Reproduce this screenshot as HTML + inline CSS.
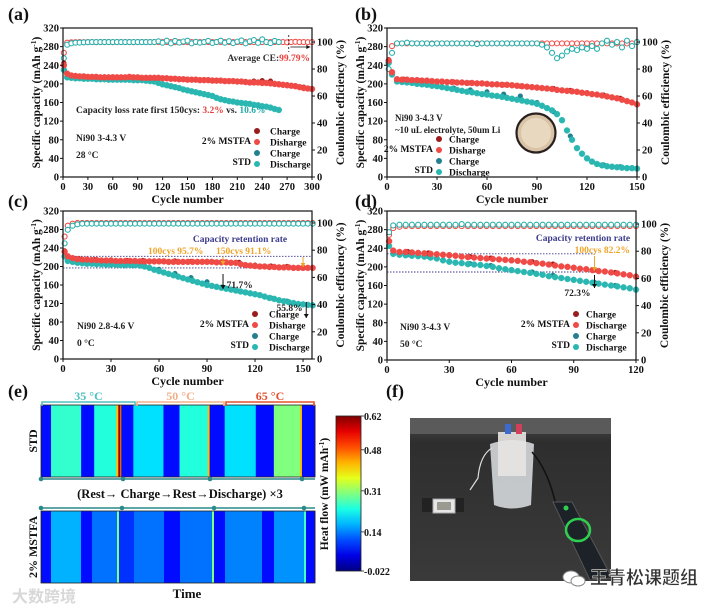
<!DOCTYPE html>
<html><head><meta charset="utf-8">
<style>
html,body{margin:0;padding:0;background:#fff;}
body{width:719px;height:608px;overflow:hidden;}
svg{display:block;font-family:"Liberation Serif","Noto Serif CJK SC",serif;font-weight:bold;}
</style></head>
<body>
<svg id="fig" width="719" height="608" viewBox="0 0 719 608" xmlns="http://www.w3.org/2000/svg"></svg>
<script>
// ---------- DATA ----------
// panel a (cycles: 1, then every 5)
const aMstfaDis=[240,222,218,217,216,216,215,215,215,214,214,214,214,214,214,214,215,214,214,213,213,213,213,213,212,212,211,211,210,210,209,209,209,208,208,208,207,207,207,206,206,206,205,205,204,203,203,203,202,202,201,200,199,198,197,196,195,193,191,190,189];
const aStdDis=[230,214,213,212,212,211,211,211,210,210,210,209,209,209,209,209,209,208,208,208,207,206,205,202,199,197,195,193,191,188,186,184,182,180,178,176,174,170,167,165,163,162,160,159,158,157,155,154,152,151,149,146,144];
const aMstfaCE=[92,99.5,99.8,99.9,100,99.9,100,100,99.9,100,100,100,99.9,100,100,100,100,99.9,100,100,100,100,100,100,100,100,100,99.9,100,100,100,100,100,100,100,100,100,100,100,100,100,100,100,100,100,100,100,100,100,100,100,100,100,100,99.8,100,100.2,100,100,99.9,100];
const aStdCE=[88,98,99,99.5,99.6,99.8,99.9,100,100,100,100,100,100,100,100,100,100,100,100,100,100,100,100,100.5,99.5,101,99,100.8,99.6,100.4,101,99,100.2,99.5,100,100.8,99.3,100,101,99.5,100.6,99.2,100.3,101.2,99,100.5,101.5,99.4,102,100,99.2,100.8,100];
// charge (cycles: 1, then every 10)
const aMstfaChg=[245,218,216,215,215,215,215,214,214,213,213,213,212,211,210,210,209,209,208,207,206,206,205,206,207,206,200,198,196,193,190];
const aStdChg=[238,213,212,211,210,210,209,209,208,207,206,205,199,195,191,186,182,178,174,167,163,160,158,155,152,149,144];
// panel b (cycles: 1, then every 3)
const bMstfaDis=[250,225,210,209,209,208,208,207,207,206,205,205,204,204,203,203,202,202,201,201,200,199,199,198,198,197,196,195,194,193,192,191,190,189,187,186,185,184,183,181,180,178,177,175,173,171,169,166,163,160,156];
const bStdDis=[245,220,205,204,203,202,200,199,198,196,195,193,191,189,187,185,183,182,180,178,177,175,174,172,170,168,166,164,162,160,157,153,148,143,135,122,100,80,62,50,40,33,28,25,23,22,21,20,19,19,18];
const bMstfaCE=[85,97,99,99,99,99,99,99,99,99,99,99,99,99,99,99,99,99,99,99,99,99,99,99,99,99,99,99,99,99,99,99,99,99,99,99,99,99,99,99,99,99,99,99,99,99,99,99,99,99,100];
const bStdCE=[80,92,99,99,99.5,99,99,99,99,98.8,99,99,99,99,99,99,99,99,98.5,99,99,99,99,99,99,99,99,99,99,99,99,98,96,92,88,90,93,95,94,96,95,97,95,99,101,98,100,96,101,97,100];
const bMstfaChg=[252,210,207,205,204,202,200,198,195,193,190,186,181,176,169,157];
const bStdChg=[248,205,201,196,191,187,183,178,174,160,140,88,40,26,22,18];
// panel c (cycles: 1, then every 3)
const cMstfaDis=[232,222,218,216,215,215,214,214,213,213,213,212,212,212,212,212,211,211,211,211,211,211,210,210,210,210,210,210,210,210,210,210,209,209,209,208,208,205,203,202,201,200,200,199,199,198,198,198,197,197,197,197,197];
const cStdDis=[222,212,210,208,207,206,206,205,205,204,204,204,203,203,203,203,202,200,197,193,190,187,184,181,178,175,172,169,166,163,160,158,156,154,152,150,148,146,144,142,140,138,135,132,130,127,125,123,121,119,118,117,116];
const cMstfaCE=[90,98,99.5,100,100,100,100,100,100,100,100,100,100,100,100,100,100,100,100,100,100,100,100,100,100,100,100,100,100,100,100,100,100,100,100,100,100,100,100,100,100,100,100,100,100,100,100,100,100,100,100,100,100];
const cStdCE=[85,95,98,99,99.5,99.5,99.5,99.5,99.5,99.5,99.5,99.5,99.5,99.5,99.5,99.5,99.5,99.5,99.5,99.5,99.5,99.5,99.5,99.5,99.5,99.5,99.5,99.5,99.5,99.5,99.5,99.5,99.5,99.5,99.5,99.5,99.5,99.5,99.5,99.5,99.5,99.5,99.5,99.5,99.5,99.5,99.5,99.5,99.5,99.5,99.5,99.5,99.5];
const cMstfaChg=[234,217,215,214,213,213,212,212,211,211,210,209,203,201,200,198];
const cStdChg=[224,209,206,205,204,203,194,185,176,167,155,147,141,132,125,119];
// panel d (cycles: 1, then every 3)
const dMstfaDis=[255,235,232,232,231,230,229,228,227,226,225,224,222,221,220,219,218,217,216,215,214,213,211,210,208,207,205,203,201,200,198,196,195,193,191,190,188,186,184,182,179];
const dStdDis=[245,228,226,225,224,223,222,220,218,214,211,209,208,206,205,204,202,200,197,195,193,191,189,187,185,183,180,178,176,174,172,170,168,166,164,162,160,158,156,154,151];
const dMstfaCE=[92,97,98,98.5,98.5,98.5,98.5,98.5,98.5,98.5,98.5,98.5,98.5,98.5,98.5,98.5,98.5,98.5,98.5,98.5,98.5,98.5,98.5,98.5,98.5,98.5,98.5,98.5,98.5,98.5,98.5,98.5,98.5,98.5,98.5,98.5,98.5,98.5,98.5,98.5,98.5];
const dStdCE=[94,99,99.5,99.5,99.5,99.5,99.5,99.5,99.5,99.5,99.5,99.5,100,99.5,99.5,99.5,99.5,99.5,99.5,99.5,99.5,99.5,99.5,99.5,99.5,99.5,99.5,99.5,99.5,99.5,99.5,99.5,99.5,99.5,99.5,99.5,99.5,99.5,99.5,99.5,99.5];
const dMstfaChg=[256,233,230,226,222,219,215,211,206,199,193,188,180];
const dStdChg=[246,226,222,212,207,203,194,189,182,173,167,160,152];
// axis ticks
const capTicks=[0,40,80,120,160,200,240,280,320];
const ceTicks=[0,20,40,60,80,100];
const xTicksA=[0,30,60,90,120,150,180,210,240,270,300];
const xTicksB=[0,30,60,90,120,150];
const xTicksD=[0,30,60,90,120];
// heatmap (durations in time units, heat flow values)
const stdDur=[10,30,13,22,2,2,1,12,30,16,28,2,15,31,18,26,2,13];
const stdHeat=[0.065,0.25,0.065,0.24,0.42,0.6,0.45,0.065,0.2,0.065,0.24,0.42,0.065,0.2,0.065,0.3,0.42,0.065];
const msDur=[10,30,11,25,2,15,30,16,32,2,11,37,12,30,2,9];
const msHeat=[0.065,0.17,0.065,0.13,0.3,0.09,0.13,0.065,0.13,0.3,0.065,0.14,0.065,0.15,0.26,0.065];
const cbTicks=[0.62,0.48,0.31,0.14,-0.022];

// ---------- HELPERS ----------
const NS="http://www.w3.org/2000/svg";
const fig=document.getElementById('fig');
function el(tag,attrs,parent){const e=document.createElementNS(NS,tag);for(const k in attrs)e.setAttribute(k,attrs[k]);(parent||fig).appendChild(e);return e;}
function txt(x,y,s,size,fill,anchor,parent){const t=el('text',{x:x,y:y,'font-size':size,fill:fill||'#111','text-anchor':anchor||'start'},parent);t.textContent=s;return t;}

const C={mc:'#9a1c1c',md:'#ef4a46',sc:'#23808f',sd:'#2bb7b1'};

function panel(cfg){
  const g=el('g',{});
  
  
  const {L,R,T,B,xmax,ceTop}=cfg;
  const sx=v=>L+v/xmax*(R-L), sy=v=>B-v/320*(B-T), sce=v=>B-v/ceTop*(B-T);
  if(cfg.back) cfg.back(g,sx,sy,sce);
  function cyc(i,step){return i===0?1:i*step;}
  function dots(arr,step,color,yfun,open,name,r){
    const gg=el('g',{},g);
    
    
    arr.forEach((v,i)=>{
      const c=el('circle',{cx:sx(cyc(i,step)),cy:yfun(v),r:r||2.8,fill:open?'#fff':color,stroke:color,'stroke-width':open?1.1:0.4},gg);
      
      
    });
  }
  dots(cfg.mCE,cfg.step,'#f0504c',sce,true,'mstfa-ce-series',2.5);
  dots(cfg.sCE,cfg.step,'#27afac',sce,true,'std-ce-series',2.5);
  dots(cfg.sChg,10,C.sc,sy,false,'std-charge-series',2.4);
  dots(cfg.mChg,10,C.mc,sy,false,'mstfa-charge-series',2.4);
  dots(cfg.sDis,cfg.step,C.sd,sy,false,'std-discharge-series',3);
  dots(cfg.mDis,cfg.step,C.md,sy,false,'mstfa-discharge-series',3);
  const fr=el('rect',{x:L,y:T,width:R-L,height:B-T,fill:'none',stroke:'#111','stroke-width':1.2},g);
  
  
  capTicks.forEach(v=>{
    el('line',{x1:L-3,x2:L,y1:sy(v),y2:sy(v),stroke:'#111','stroke-width':1},g);
    const t=txt(L-4,sy(v)+3.5,String(v),10.5,'#111','end',g);
    
    
  });
  ceTicks.forEach(v=>{
    el('line',{x1:R,x2:R+3,y1:sce(v),y2:sce(v),stroke:'#111','stroke-width':1},g);
    const t=txt(R+5,sce(v)+3.5,String(v),10.5,'#111','start',g);
    
    
  });
  cfg.xt.forEach(v=>{
    el('line',{x1:sx(v),x2:sx(v),y1:B,y2:B+3,stroke:'#111','stroke-width':1},g);
    const t=txt(sx(v),B+13,String(v),10.5,'#111','middle',g);
    
    
  });
  const xt=txt((L+R)/2,B+26,'Cycle number',12,'#111','middle',g);
  
  
  const yt=el('text',{transform:`translate(${L-23},${(T+B)/2}) rotate(-90)`,'font-size':11.5,'text-anchor':'middle',fill:'#111'},g);
  yt.innerHTML='Specific capacity (mAh g<tspan font-size="7.5" dy="-4">-1</tspan><tspan dy="4">)</tspan>';
  
  
  const y2=el('text',{transform:`translate(${R+32},${(T+B)/2}) rotate(-90)`,'font-size':11.5,'text-anchor':'middle',fill:'#111'},g);
  y2.textContent='Coulombic efficiency (%)';
  
  
  const pl=txt(cfg.lx,cfg.ly,'('+cfg.id+')',18,'#111','start',g);
  
  
  const lg=el('g',{},g);
  
  
  const [dx,ly0,gap,txtx]=cfg.leg;
  const names=['Charge',cfg.disName||'Disharge','Charge','Discharge'];
  const cols=[C.mc,C.md,C.sc,C.sd];
  names.forEach((n,i)=>{
    const y=ly0+i*gap;
    const c=el('circle',{cx:dx,cy:y,r:3,fill:cols[i]},lg);
    
    
    const t=txt(txtx,y+3.5,n,9.5,'#111','start',lg);
    
    
  });
  const m=txt(dx-6,ly0+gap*1.2,'2% MSTFA',9.5,'#111','end',lg);
  
  
  const s=txt(dx-6,ly0+gap*3.1,'STD',9.5,'#111','end',lg);
  
  
  if(cfg.front) cfg.front(g,sx,sy,sce);
}

function rich(x,y,parts,size,anchor,parent){
  const t=el('text',{x:x,y:y,'font-size':size,'text-anchor':anchor||'start'},parent);
  t.innerHTML=parts.map(p=>`<tspan fill="${p[1]}">${p[0]}</tspan>`).join('');
  return t;
}

// ---------- PANEL A ----------
panel({id:'a',L:63,R:312,T:28,B:177,xmax:300,ceTop:110.4,step:5,xt:xTicksA,lx:8,ly:20,
  mDis:aMstfaDis,sDis:aStdDis,mCE:aMstfaCE,sCE:aStdCE,mChg:aMstfaChg,sChg:aStdChg,
  leg:[257,131,11,270],
  front:(g,sx,sy,sce)=>{
    el('line',{x1:sx(272),x2:sx(272),y1:35,y2:52,stroke:'#111','stroke-width':0.8,'stroke-dasharray':'2,2'},g);
    el('line',{x1:sx(274),x2:sx(298),y1:47,y2:47,stroke:'#111','stroke-width':0.8},g);
    el('path',{d:`M${sx(298)} 47 l-4 -2 v4z`,fill:'#111'},g);
    const a=rich(310,61,[['Average CE:','#333'],['99.79%','#e8413c']],9.5,'end',g);
    
    
    const b=rich(76,113,[['Capacity loss rate first 150cys: ','#222'],['3.2%','#e8413c'],[' vs. ','#222'],['10.6%','#20aaa8']],9.5,'start',g);
    
    
    const c=txt(76,141,'Ni90 3-4.3 V',9.5,'#222','start',g);
    
    
    const d=txt(76,158,'28 °C',9.5,'#222','start',g);
    
    
  }});

// ---------- PANEL B ----------
panel({id:'b',L:387,R:637,T:28,B:177,xmax:150,ceTop:110.4,step:3,xt:xTicksB,lx:355,ly:20,
  mDis:bMstfaDis,sDis:bStdDis,mCE:bMstfaCE,sCE:bStdCE,mChg:bMstfaChg,sChg:bStdChg,
  leg:[439,139,11,449],
  back:(g)=>{
    const coin=el('circle',{cx:536,cy:133,r:19.5,fill:'#d9c3a6',stroke:'#2a2020','stroke-width':2.2},g);
    
    
    el('circle',{cx:536,cy:133,r:15,fill:'#e8d8c0'},g);
  },
  front:(g)=>{
    const c=txt(395,121,'Ni90 3-4.3 V',9,'#222','start',g);
    
    
    const d=txt(395,133,'~10 uL electrolyte, 50um Li',9,'#222','start',g);
    
    
  }});

// ---------- PANEL C ----------
panel({id:'c',L:63,R:312,T:211,B:359,xmax:155.6,ceTop:108.8,step:3,xt:xTicksB,lx:8,ly:207,
  mDis:cMstfaDis,sDis:cStdDis,mCE:cMstfaCE,sCE:cStdCE,mChg:cMstfaChg,sChg:cStdChg,
  leg:[255,314,11,269],
  back:(g,sx,sy)=>{
    [222,197].forEach(v=>el('line',{x1:63,x2:312,y1:sy(v),y2:sy(v),stroke:'#3a3a8a','stroke-width':0.9,'stroke-dasharray':'1.5,1.5'},g));
  },
  front:(g,sx,sy)=>{
    const a=txt(240,242,'Capacity retention rate',9.5,'#3c3c8c','middle',g);
    
    
    const b=txt(148,254,'100cys  95.7%',9.5,'#f0a428','start',g);
    
    
    const b2=txt(216,254,'150cys 91.1%',9.5,'#f0a428','start',g);
    
    
    [[sx(100),257,265,'#f0a428'],[sx(150),257,267,'#f0a428'],[sx(100),274,289,'#111'],[sx(152),302,318,'#111']].forEach(a=>{
      el('line',{x1:a[0],x2:a[0],y1:a[1],y2:a[2],stroke:a[3],'stroke-width':1},g);
      el('path',{d:`M${a[0]} ${a[2]} l-2.5 -4 h5z`,fill:a[3]},g);
    });
    const p1=txt(sx(101)+2,288,'71.7%',9.5,'#222','start',g);
    
    
    const p2=txt(sx(151)-2,311,'55.8%',9.5,'#222','end',g);
    
    
    const c=txt(77,329,'Ni90 2.8-4.6 V',9.5,'#222','start',g);
    
    
    const d=txt(77,346,'0 °C',9.5,'#222','start',g);
    
    
  }});

// ---------- PANEL D ----------
panel({id:'d',L:387,R:636,T:211,B:360,xmax:120,ceTop:109.6,step:3,xt:xTicksD,lx:355,ly:207,disName:'Discharge',
  mDis:dMstfaDis,sDis:dStdDis,mCE:dMstfaCE,sCE:dStdCE,mChg:dMstfaChg,sChg:dStdChg,
  leg:[576,314,11,586],
  back:(g,sx,sy)=>{
    [228,189].forEach(v=>el('line',{x1:387,x2:sx(100),y1:sy(v),y2:sy(v),stroke:'#3a3a8a','stroke-width':0.9,'stroke-dasharray':'1.5,1.5'},g));
  },
  front:(g,sx,sy)=>{
    const a=txt(583,241,'Capacity retention rate',9.5,'#3c3c8c','middle',g);
    
    
    const b=txt(630,253,'100cys  82.2%',9.5,'#f0a428','end',g);
    
    
    [[sx(100),256,271,'#f0a428'],[sx(100),275,288,'#111']].forEach(a=>{
      el('line',{x1:a[0],x2:a[0],y1:a[1],y2:a[2],stroke:a[3],'stroke-width':1},g);
      el('path',{d:`M${a[0]} ${a[2]} l-2.5 -4 h5z`,fill:a[3]},g);
    });
    const p1=txt(sx(100)-4,296,'72.3%',9.5,'#222','end',g);
    
    
    const c=txt(400,330,'Ni90 3-4.3 V',9.5,'#222','start',g);
    
    
    const d=txt(400,347,'50 °C',9.5,'#222','start',g);
    
    
  }});

// ---------- PANEL E (heatmap) ----------
function jet(v){
  const t=Math.max(0,Math.min(1,(v+0.022)/(0.62+0.022)));
  const r=Math.max(0,Math.min(1,1.5-Math.abs(4*t-3)));
  const g=Math.max(0,Math.min(1,1.5-Math.abs(4*t-2)));
  const b=Math.max(0,Math.min(1,1.5-Math.abs(4*t-1)));
  return `rgb(${Math.round(r*255)},${Math.round(g*255)},${Math.round(b*255)})`;
}
const eG=el('g',{});


const HX0=41,HX1=315;
function strip(dur,heat,y,h,name){
  const total=dur.reduce((a,b)=>a+b,0);
  const gg=el('g',{},eG);
  
  
  let acc=0;
  dur.forEach((d,i)=>{
    const x=HX0+acc/total*(HX1-HX0), w=d/total*(HX1-HX0);
    const r=el('rect',{x:x,y:y,width:w+0.4,height:h,fill:jet(heat[i])},gg);
    
    
    acc+=d;
  });
  el('rect',{x:HX0,y:y,width:HX1-HX0,height:h,fill:'none',stroke:'#222','stroke-width':0.8},gg);
}
strip(stdDur,stdHeat,405,72,'std-heatmap');
strip(msDur,msHeat,511,72,'mstfa-heatmap');
[[41,136,'#4fc0c0','35 °C'],[136,225,'#f4b08a','50 °C'],[225,315,'#e2502e','65 °C']].forEach(s=>{
  el('path',{d:`M${s[0]+1} 406 V402 H${s[1]-1} V406`,fill:'none',stroke:s[2],'stroke-width':1.6},eG);
  const t=txt((s[0]+s[1])/2,400,s[3],12,s[2],'middle',eG);
  
  
});
[[479,[41,123,210,302]],[508,[41,122,214,304]]].forEach(r=>{
  el('line',{x1:41,x2:315,y1:r[0],y2:r[0],stroke:'#2a8a8a','stroke-width':1.6},eG);
  r[1].forEach(x=>el('circle',{cx:x,cy:r[0],r:2.3,fill:'#2a8a8a'},eG));
});
const proto=txt(180,498,'(Rest→ Charge→Rest→Discharge) ×3',12.5,'#111','middle',eG);


const tl=txt(187,598,'Time',13,'#111','middle',eG);


const sl=el('text',{transform:'translate(37,441) rotate(-90)','font-size':12,'text-anchor':'middle',fill:'#111'},eG);
sl.textContent='STD';


const ml=el('text',{transform:'translate(37,547) rotate(-90)','font-size':12,'text-anchor':'middle',fill:'#111'},eG);
ml.textContent='2% MSTFA';


const elab=txt(8,397,'(e)',18,'#111','start',eG);


const defs=el('defs',{});
const lg=el('linearGradient',{id:'jetg',x1:0,y1:1,x2:0,y2:0},defs);
for(let i=0;i<=10;i++){const v=-0.022+i/10*0.642;el('stop',{offset:i/10,'stop-color':jet(v)},lg);}
const cb=el('rect',{x:336,y:416,width:25,height:155,fill:'url(#jetg)',stroke:'#222','stroke-width':0.8},eG);


cbTicks.forEach(v=>{
  const y=571-(v+0.022)/0.642*155;
  el('line',{x1:361,x2:364,y1:y,y2:y,stroke:'#222','stroke-width':0.8},eG);
  const t=txt(364,y+4,String(v),10,'#111','start',eG);
  
  
});
const cbt=el('text',{transform:'translate(328,494) rotate(-90)','font-size':11.5,'text-anchor':'middle',fill:'#111'},eG);
cbt.innerHTML='Heat flow (mW mAh<tspan font-size="7.5" dy="-4">-1</tspan><tspan dy="4">)</tspan>';


const wm=txt(12,602,'大数跨境',16,'#d8d8d8','start',eG);


wm.setAttribute('font-family','"Noto Sans CJK SC",sans-serif');
</script>
<svg style="position:absolute;left:0;top:0" width="719" height="608">
  <text x="386" y="397" font-family="Liberation Serif,serif" font-weight="bold" font-size="18" fill="#111">(f)</text>
  <defs>
    <linearGradient id="bench" x1="0" y1="0" x2="0" y2="1">
      <stop offset="0" stop-color="#4a4a4a"/><stop offset="0.15" stop-color="#2e2e2e"/><stop offset="1" stop-color="#3a3a3a"/>
    </linearGradient>
  </defs>
  <g>
    <rect x="410" y="418" width="201" height="163" fill="url(#bench)"/>
    <rect x="410" y="418" width="201" height="16" fill="#5a5a5a"/>
    <path d="M490 444 Q512 436 534 444 L531 505 Q512 512 494 505 Z" fill="#d4d8dc" opacity="0.9"/>
    <rect x="498" y="432" width="28" height="44" fill="#e8e4e2" opacity="0.9"/>
    <rect x="505" y="424" width="6" height="10" fill="#3b6bd0"/>
    <rect x="516" y="424" width="6" height="10" fill="#d04058"/>
    <path d="M492 448 Q480 455 478 478 L470 490" fill="none" stroke="#ddd" stroke-width="1.2"/>
    <path d="M532 452 Q548 470 556 505" fill="none" stroke="#111" stroke-width="1.5"/>
    <rect x="422" y="498" width="42" height="14" fill="#222"/>
    <rect x="433" y="499" width="22" height="14" fill="#e6e6e6" stroke="#aaa"/>
    <rect x="437" y="502" width="14" height="8" fill="#9a9a90"/>
    <path d="M553 502 L572 502 L612 578 L590 580 Z" fill="#1c2228" stroke="#555"/>
    <ellipse cx="578" cy="530" rx="12" ry="11" fill="none" stroke="#2fd050" stroke-width="2.5"/>
    <circle cx="566" cy="508" r="2.5" fill="#2fd050"/>
  </g>
  <g>
    <ellipse cx="571" cy="577" rx="8" ry="6" fill="#fff" stroke="#888"/>
    <ellipse cx="578" cy="581" rx="7" ry="5" fill="#fff" stroke="#888"/>
    <text x="590" y="584" font-family="Liberation Sans,Noto Sans CJK SC,sans-serif" font-size="18" fill="#333" stroke="#fff" stroke-width="0.4">王青松课题组</text>
  </g>
</svg>
</body></html>
